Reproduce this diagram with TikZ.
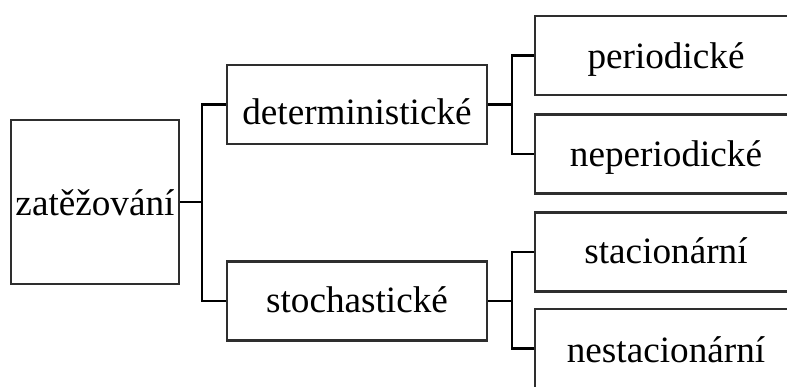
\documentclass[tikz,border=0pt]{standalone}
\usepackage{fontspec}
\setmainfont{Liberation Serif}
\begin{document}
\begin{tikzpicture}[x=1pt,y=-1pt,
  box/.style={draw=black!82, line width=2.4pt, inner sep=0pt, rectangle},
  rootbox/.style={box, minimum width=168pt, minimum height=164pt},
  midbox/.style={box, minimum width=260pt, minimum height=79pt},
  leafbox/.style={box, minimum width=280pt, minimum height=79pt},
  lbl/.style={anchor=base, inner sep=0pt, font=\fontsize{37.2}{40}\selectfont},
  wire/.style={draw=black, line width=2.4pt}]
\useasboundingbox (0,0) rectangle (787,386);
\clip (0,0) rectangle (787,386);

% boxes (the leaf boxes run past the right margin)
\node[rootbox] (root) at (95,202) {};
\node[midbox]  (det)  at (357,104.5) {};
\node[midbox]  (sto)  at (357,301) {};
\node[leafbox] (per)  at (675,55.5) {};
\node[leafbox] (neper) at (675,154) {};
\node[leafbox] (stac) at (675,252) {};
\node[leafbox] (nestac) at (675,348.5) {};

% labels
\node[lbl] at (95,215) {zatěžování};
\node[lbl] at (357,124) {deterministické};
\node[lbl] at (357,312) {stochastické};
\node[lbl] at (666,68) {periodické};
\node[lbl] at (666,166) {neperiodické};
\node[lbl] at (666,263) {stacionární};
\node[lbl] at (666,362) {nestacionární};

% branching connectors
\coordinate (j1) at (202,202);
\coordinate (j2) at (512,104.5);
\coordinate (j3) at (512,301);
\draw[wire] (root.east) -- (j1);
\draw[wire] (det.west) -| (j1);
\draw[wire] (sto.west) -| (j1);
\draw[wire] (det.east) -- (j2);
\draw[wire] (per.west) -| (j2);
\draw[wire] (neper.west) -| (j2);
\draw[wire] (sto.east) -- (j3);
\draw[wire] (stac.west) -| (j3);
\draw[wire] (nestac.west) -| (j3);
\end{tikzpicture}
\end{document}
